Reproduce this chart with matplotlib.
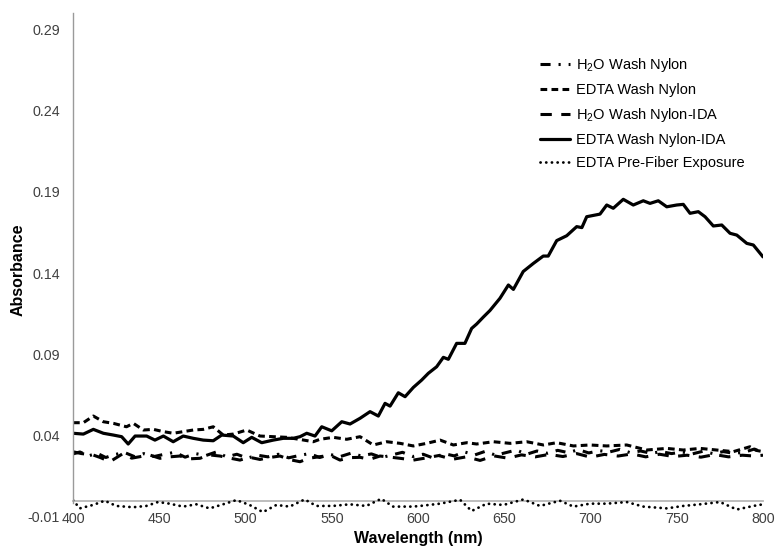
import matplotlib
matplotlib.use("Agg")
import matplotlib.pyplot as plt
from matplotlib.ticker import FixedLocator

plt.rcParams['font.family'] = ['Liberation Sans', 'DejaVu Sans']
plt.rcParams['mathtext.default'] = 'regular'

# ---- data ----
wl_edta_ida = [400, 406, 411.8, 417.6, 423.4, 428.2, 432, 436, 442.7, 447.5, 452.4, 458.1,
               463.9, 469.7, 475.5, 481.3, 486.2, 492.9, 498.7, 503.6, 509.4, 516.1, 521.9,
               527.7, 531.6, 535.5, 540.3, 544.2, 550, 555.8, 560.6, 566.4, 572.2, 577,
               580.9, 583.8, 588.6, 592.5, 597.3, 602.1, 606, 610.8, 614.7, 617.6, 622.4,
               627.2, 631.1, 634, 637.9, 641.7, 647.5, 652.4, 655.3, 661, 666.9, 672.6,
               675.5, 680.4, 686.2, 692, 695, 697.8, 705.5, 709.4, 713.2, 719, 724.8,
               730.6, 734.5, 739.3, 744.2, 750, 753.8, 757.7, 762.5, 766.4, 771.2, 776.1,
               780.9, 784.8, 790.6, 794.4, 800]
abs_edta_ida = [0.0415, 0.0410, 0.0439, 0.0415, 0.0404, 0.0394, 0.0349, 0.0398, 0.0398, 0.0373,
                0.0398, 0.0363, 0.0398, 0.0384, 0.0373, 0.0369, 0.0404, 0.0398, 0.0357, 0.0390,
                0.0357, 0.0373, 0.0384, 0.0384, 0.0394, 0.0415, 0.0398, 0.0455, 0.0430, 0.0486,
                0.0472, 0.0507, 0.0548, 0.0521, 0.0599, 0.0582, 0.0664, 0.0640, 0.0697, 0.0742,
                0.0784, 0.0824, 0.0882, 0.0870, 0.0968, 0.0968, 0.1060, 0.1087, 0.1130, 0.1170,
                0.1245, 0.1327, 0.1300, 0.1410, 0.1460, 0.1505, 0.1505, 0.1600, 0.1630, 0.1686,
                0.1680, 0.1747, 0.1763, 0.1819, 0.1799, 0.1854, 0.1819, 0.1845, 0.1829, 0.1845,
                0.1808, 0.1819, 0.1823, 0.1768, 0.1778, 0.1747, 0.1690, 0.1696, 0.1645, 0.1634,
                0.1583, 0.1573, 0.1500]

wl_edta_nylon = [400, 406, 411.8, 417.6, 423.4, 431, 435, 440.8, 446.6, 452.4, 458.1, 463.9,
                 469.7, 475.5, 481.3, 487.1, 492.9, 500.7, 508.4, 516.1, 523.8, 531.6, 539.3,
                 543.2, 550.9, 558.7, 566.4, 574.1, 581.9, 589.6, 597.3, 605, 612.8, 620.5,
                 628.3, 634, 643.7, 653.4, 663, 672.7, 680.4, 690.1, 699.7, 709.4, 721,
                 732.6, 744.2, 753.8, 763.5, 773.1, 782.8, 792.4, 796, 800]
abs_edta_nylon = [0.0480, 0.0480, 0.0521, 0.0486, 0.0476, 0.0455, 0.0476, 0.0435, 0.0439, 0.0425,
                  0.0415, 0.0425, 0.0435, 0.0439, 0.0455, 0.0404, 0.0410, 0.0435, 0.0398, 0.0394,
                  0.0390, 0.0377, 0.0363, 0.0378, 0.0390, 0.0378, 0.0394, 0.0343, 0.0363, 0.0353,
                  0.0337, 0.0353, 0.0373, 0.0343, 0.0357, 0.0349, 0.0363, 0.0353, 0.0363, 0.0343,
                  0.0357, 0.0337, 0.0343, 0.0337, 0.0343, 0.0312, 0.0322, 0.0312, 0.0322, 0.0312,
                  0.0302, 0.0332, 0.0310, 0.0302]

wl_h2o_ida = [400, 405, 411.8, 416, 421.4, 429.1, 434, 438.8, 444, 450.4, 456, 462, 468, 473.6,
              479, 485.2, 491, 496.8, 502, 508.4, 514, 520, 526, 531.6, 537, 543.2, 549,
              554.8, 560, 566.4, 572, 578, 584, 589.6, 597.3, 604, 612, 620, 628, 636, 644,
              652, 660, 668, 676, 684, 692, 700, 708, 716, 724, 732, 740, 748, 756, 764,
              772, 780, 788, 795, 800]
abs_h2o_ida = [0.0301, 0.0290, 0.0281, 0.0265, 0.0240, 0.0291, 0.0262, 0.0271, 0.0283, 0.0261,
               0.0270, 0.0275, 0.0258, 0.0261, 0.0282, 0.0275, 0.0262, 0.0250, 0.0268, 0.0254,
               0.0266, 0.0275, 0.0252, 0.0240, 0.0262, 0.0271, 0.0280, 0.0250, 0.0265, 0.0267,
               0.0255, 0.0275, 0.0268, 0.0261, 0.0250, 0.0262, 0.0278, 0.0255, 0.0270, 0.0248,
               0.0276, 0.0262, 0.0282, 0.0270, 0.0285, 0.0272, 0.0290, 0.0268, 0.0285, 0.0275,
               0.0288, 0.0270, 0.0286, 0.0272, 0.0280, 0.0268, 0.0284, 0.0270, 0.0280, 0.0275,
               0.0280]

wl_h2o_nylon = [400, 404, 409, 414, 419, 424, 430, 436, 441, 447, 453, 459, 465, 471, 477,
                483, 489, 495, 501, 507, 513, 519, 525, 531, 537, 543, 549, 555, 561, 567,
                573, 579, 585, 591, 597, 603, 609, 615, 621, 627, 633, 639, 645, 651, 657,
                663, 669, 675, 681, 687, 693, 699, 705, 711, 717, 723, 729, 735, 741, 747,
                753, 759, 765, 771, 777, 783, 789, 795, 800]
abs_h2o_nylon = [0.0288, 0.0300, 0.0276, 0.0292, 0.0266, 0.0284, 0.0296, 0.0270, 0.0290, 0.0272,
                 0.0286, 0.0298, 0.0268, 0.0290, 0.0278, 0.0300, 0.0270, 0.0286, 0.0262, 0.0280,
                 0.0270, 0.0286, 0.0264, 0.0278, 0.0290, 0.0266, 0.0284, 0.0272, 0.0292, 0.0276,
                 0.0288, 0.0266, 0.0282, 0.0298, 0.0272, 0.0286, 0.0262, 0.0290, 0.0276, 0.0300,
                 0.0282, 0.0304, 0.0280, 0.0296, 0.0312, 0.0286, 0.0306, 0.0292, 0.0310, 0.0296,
                 0.0314, 0.0294, 0.0308, 0.0300, 0.0316, 0.0296, 0.0306, 0.0292, 0.0302, 0.0290,
                 0.0300, 0.0288, 0.0304, 0.0290, 0.0302, 0.0292, 0.0298, 0.0318, 0.0296]

wl_prefiber = [400, 403.9, 411.6, 418.4, 425.1, 434.8, 442.5, 449.3, 456, 463.8, 471.5, 479.2,
               487, 494.7, 502.4, 510.1, 517.9, 525.6, 534.3, 541.1, 550.7, 560.4, 570,
               578.7, 585.5, 597, 601.2, 612.8, 624.4, 631.1, 639.8, 649.5, 661.1, 670.7,
               682.3, 690.1, 699.7, 709.4, 721, 730.6, 744.2, 753.8, 763.5, 775.1, 784.8,
               794.4, 800]
abs_prefiber = [0.0004, -0.0047, -0.0026, 0.0000, -0.0032, -0.0040, -0.0032, -0.0008, -0.0018,
                -0.0036, -0.0022, -0.0047, -0.0022, 0.0004, -0.0026, -0.0070, -0.0026, -0.0036,
                0.0008, -0.0032, -0.0032, -0.0022, -0.0032, 0.0012, -0.0036, -0.0036, -0.0032,
                -0.0018, 0.0006, -0.0063, -0.0018, -0.0026, 0.0008, -0.0032, 0.0000, -0.0036,
                -0.0018, -0.0018, -0.0008, -0.0036, -0.0047, -0.0032, -0.0022, -0.0008, -0.0054,
                -0.0032, -0.0022]

labels = ['H$_2$O Wash Nylon', 'EDTA Wash Nylon', 'H$_2$O Wash Nylon-IDA',
          'EDTA Wash Nylon-IDA', 'EDTA Pre-Fiber Exposure']
x_ticks = [400, 450, 500, 550, 600, 650, 700, 750, 800]
y_ticks = [-0.01, 0.04, 0.09, 0.14, 0.19, 0.24, 0.29]
y_ticklabels = ['-0.01', '0.04', '0.09', '0.14', '0.19', '0.24', '0.29']

# ---- figure ----
W, H = 775, 547
fig = plt.figure(figsize=(W / 100, H / 100), dpi=100)
ax = fig.add_axes([73 / W, (H - 517) / H, 690 / W, 504 / H])

lw = 2.2
common = dict(color='black', solid_joinstyle='round', solid_capstyle='round',
              dash_joinstyle='round')
ax.plot(wl_h2o_nylon, abs_h2o_nylon, lw=lw, dashes=(3.3, 2.6, 0.7, 2.6),
        label=labels[0], **common)
ax.plot(wl_edta_nylon, abs_edta_nylon, lw=lw, dashes=(2.2, 1.4),
        label=labels[1], **common)
ax.plot(wl_h2o_ida, abs_h2o_ida, lw=lw, dashes=(3.7, 3.1),
        label=labels[2], **common)
ax.plot(wl_edta_ida, abs_edta_ida, lw=2.3, label=labels[3], **common)
ax.plot(wl_prefiber, abs_prefiber, lw=2.0, dashes=(0.05, 2.0), dash_capstyle='round',
        color='black', label=labels[4])

ax.set_xlim(400, 800)
ax.set_ylim(-0.01, 0.30)
ax.xaxis.set_major_locator(FixedLocator(x_ticks))
ax.set_yticks(y_ticks)
ax.set_yticklabels(y_ticklabels)

for s in ['top', 'right']:
    ax.spines[s].set_visible(False)
ax.spines['bottom'].set_position(('data', 0))
ax.spines['bottom'].set_color('#b8b8b8')
ax.spines['bottom'].set_linewidth(1.3)
ax.spines['left'].set_color('#9a9a9a')
ax.spines['left'].set_linewidth(1.0)
ax.spines['left'].set_bounds(-0.0015, 0.30)
ax.spines['bottom'].set_zorder(0.5)

ax.tick_params(axis='both', length=0, labelsize=10.3, colors='#404040')
ax.tick_params(axis='y', pad=9.5)
ax.tick_params(axis='x', pad=8)

ax.set_xlabel('Wavelength (nm)', fontsize=11.5, fontweight='bold')
ax.set_ylabel('Absorbance', fontsize=11.5, fontweight='bold')
ax.xaxis.set_label_coords(0.5, -0.028)
ax.yaxis.set_label_coords((18 - 73) / 690, 0.49)
ax.xaxis.label.set_verticalalignment('top')
ax.yaxis.label.set_verticalalignment('center')

leg = ax.legend(loc='upper left', bbox_to_anchor=(534 / W, 1 - 50 / H),
                bbox_transform=fig.transFigure, frameon=False, fontsize=10.5,
                handlelength=2.1, handletextpad=0.35, labelspacing=0.62,
                borderaxespad=0)

fig.savefig('out.png', dpi=100)
